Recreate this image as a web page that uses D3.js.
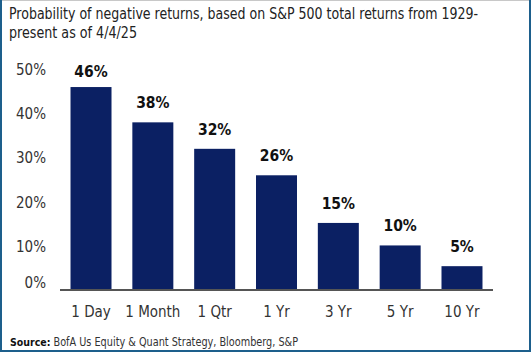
<!DOCTYPE html>
<html><head><meta charset="utf-8">
<script src="https://cdn.jsdelivr.net/npm/d3@7"></script>
<style>
html,body{margin:0;padding:0;background:#fff;}
svg{display:block;}
text{font-family:"Liberation Sans Narrow","DejaVu Sans Condensed","Liberation Sans",sans-serif;}
</style></head>
<body>
<script>
const categories = ["1 Day","1 Month","1 Qtr","1 Yr","3 Yr","5 Yr","10 Yr"];
const values = [46, 38, 32, 26, 15.2, 10.1, 5.4];
const valueLabels = ["46%","38%","32%","26%","15%","10%","5%"];
const yTicks = [0, 10, 20, 30, 40, 50];
const titleLines = ["Probability of negative returns, based on S&P 500 total returns from 1929-","present as of 4/4/25"];
const sourceLabel = "Source:";
const sourceText = "BofA Us Equity & Quant Strategy, Bloomberg, S&P";

const W = 531, H = 352;
const svg = d3.select("body").append("svg").attr("width", W).attr("height", H);

// frame
svg.append("line").attr("x1",0).attr("x2",W).attr("y1",0.5).attr("y2",0.5).attr("stroke","#c8c8c8").attr("stroke-width",1);
svg.append("path").attr("d",`M1,0 V${H-1} H${W-1} V0`).attr("fill","none").attr("stroke","#1d5f8c").attr("stroke-width",2);

// title
const tw = [469, 128];
titleLines.forEach((t,i)=>{
  svg.append("text").attr("x",9).attr("y",19+i*18.5)
    .attr("font-size",15.5).attr("fill","#222")
    .attr("textLength",tw[i]).attr("lengthAdjust","spacingAndGlyphs")
    .text(t);
});

const x = d3.scaleBand().domain(categories).range([60,493]).paddingInner(0.337).paddingOuter(0.17);
const y = d3.scaleLinear().domain([0,50]).range([290,69.4]);

// bars
svg.selectAll("rect.bar").data(values).enter().append("rect")
  .attr("class","bar")
  .attr("x",(d,i)=>x(categories[i]))
  .attr("width",x.bandwidth())
  .attr("y",d=>y(d))
  .attr("height",d=>y(0)-y(d))
  .attr("fill","#0b2063");

// value labels
svg.selectAll("text.val").data(values).enter().append("text")
  .attr("class","val")
  .attr("x",(d,i)=>x(categories[i])+x.bandwidth()/2)
  .attr("y",d=>Math.max(y(d)-14, 77))
  .attr("text-anchor","middle")
  .attr("font-size",15.5).attr("font-weight","bold").attr("fill","#111")
  .text((d,i)=>valueLabels[i]);

// y axis labels
const yAxis = d3.axisLeft(y).tickValues(yTicks).tickFormat(d=>d+"%").tickSize(0).tickPadding(0);
const ya = svg.append("g").attr("transform","translate(46,0)").call(yAxis);
ya.select(".domain").remove();
ya.selectAll("text").attr("font-size",15).attr("fill","#333")
  .attr("font-family",'"Liberation Sans Narrow","DejaVu Sans Condensed",sans-serif')
  .attr("dy",d=>d===0?"-0.15em":"0.35em");

// x axis
const xAxis = d3.axisBottom(x).tickSize(0).tickPadding(0);
const xa = svg.append("g").attr("transform","translate(0,290)").call(xAxis);
xa.select(".domain").remove();
xa.selectAll("text").attr("font-size",15).attr("fill","#333")
  .attr("font-family",'"Liberation Sans Narrow","DejaVu Sans Condensed",sans-serif')
  .attr("dy",0).attr("y",26.5);
svg.append("line").attr("x1",60).attr("x2",493).attr("y1",290).attr("y2",290)
  .attr("stroke","#555").attr("stroke-width",2);

// source
svg.append("text").attr("x",10).attr("y",345.5).attr("font-size",10.5).attr("fill","#111")
  .attr("font-weight","bold")
  .text(sourceLabel);
svg.append("text").attr("x",53.5).attr("y",345.5).attr("font-size",12).attr("fill","#333")
  .attr("textLength",244.5).attr("lengthAdjust","spacingAndGlyphs")
  .text(sourceText);
</script>
</body></html>
